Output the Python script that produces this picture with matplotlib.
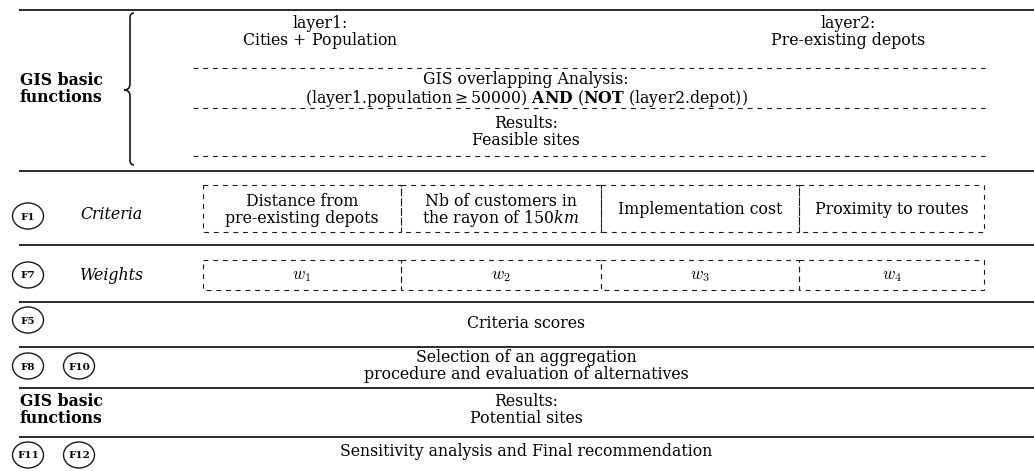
import matplotlib
matplotlib.use("Agg")
import matplotlib.pyplot as plt
from matplotlib.patches import Ellipse, Rectangle, PathPatch
from matplotlib.path import Path

plt.rcParams['lines.scale_dashes'] = False
plt.rcParams['mathtext.fontset'] = 'custom'
plt.rcParams['mathtext.rm'] = 'DejaVu Serif'
plt.rcParams['mathtext.it'] = 'DejaVu Serif:italic'
plt.rcParams['mathtext.bf'] = 'DejaVu Serif:bold'

# ---- content ----
gis_label = ["GIS basic", "functions"]
layer1_text = ["layer1:", "Cities $+$ Population"]
layer2_text = ["layer2:", "Pre-existing depots"]
overlap_text = ["GIS overlapping Analysis:",
                r"(layer1.population$\geq$50000) $\mathbf{AND}$ ($\mathbf{NOT}$ (layer2.depot))"]
feasible_text = ["Results:", "Feasible sites"]
criteria_label = "Criteria"
weights_label = "Weights"
criteria = [["Distance from", "pre-existing depots"],
            ["Nb of customers in", "the rayon of 150$km$"],
            ["Implementation cost"],
            ["Proximity to routes"]]
weights = [r"$w_1$", r"$w_2$", r"$w_3$", r"$w_4$"]
scores_text = ["Criteria scores"]
aggregation_text = ["Selection of an aggregation",
                    "procedure and evaluation of alternatives"]
potential_text = ["Results:", "Potential sites"]
final_text = ["Sensitivity analysis and Final recommendation"]
row_tags = [["F1"], ["F7"], ["F5"], ["F8", "F10"], [], ["F11", "F12"]]

# ---- layout ----
W, H = 1034, 471
fig = plt.figure(figsize=(W / 100, H / 100), dpi=100)
ax = fig.add_axes([0, 0, 1, 1])
ax.set_xlim(0, W)
ax.set_ylim(H, 0)
ax.axis('off')

serif = 'DejaVu Serif'
fs = 11.3
lc = '#1a1a1a'
cx = 526
lead = 17


def lines(x, y0, texts, ha='center', **kw):
    for k, t in enumerate(texts):
        ax.text(x, y0 + k * lead, t, fontfamily=serif, fontsize=fs, ha=ha,
                va='baseline', **kw)


# solid separators
for y in [10, 171, 245, 302, 347, 388, 437]:
    ax.plot([19, W], [y, y], color=lc, lw=1.3, solid_capstyle='butt')

# dashed separators in top block
dash = (0, (3.5, 3.5))
for y in [68, 108, 156]:
    ax.plot([193, 985], [y, y], color=lc, lw=0.8, linestyle=dash)

# brace
tip = 124
verts = [(134, 13), (130, 13), (130, 18),
         (130, 84),
         (130, 90), (tip, 90), (tip, 90),
         (130, 90), (130, 96),
         (130, 160),
         (130, 165), (134, 165)]
codes = [Path.MOVETO, Path.CURVE3, Path.CURVE3,
         Path.LINETO,
         Path.CURVE3, Path.CURVE3, Path.LINETO,
         Path.CURVE3, Path.CURVE3,
         Path.LINETO,
         Path.CURVE3, Path.CURVE3]
ax.add_patch(PathPatch(Path(verts, codes), fill=False, color=lc, lw=1.2))

# top block texts
lines(20, 85, gis_label, ha='left', fontweight='bold')
lines(320, 28, layer1_text)
lines(848, 28, layer2_text)
lines(cx, 84, overlap_text[:1])
lines(cx, 103, overlap_text[1:])
lines(cx, 128, feasible_text)

# boxes
edges = [203, 401, 601, 799, 984]
for i in range(4):
    x0, x1 = edges[i], edges[i + 1]
    ax.add_patch(Rectangle((x0, 185), x1 - x0, 47, fill=False, ec=lc, lw=0.8,
                           linestyle=dash))
    ax.add_patch(Rectangle((x0, 260), x1 - x0, 30, fill=False, ec=lc, lw=0.8,
                           linestyle=dash))
    if len(criteria[i]) == 2:
        lines((x0 + x1) / 2, 206, criteria[i], math_fontfamily='custom')
    else:
        lines((x0 + x1) / 2, 214, criteria[i])
    ax.text((x0 + x1) / 2, 279, weights[i], fontfamily=serif, fontsize=fs + 1,
            ha='center', va='baseline', math_fontfamily='cm')

lines(80, 219, [criteria_label], ha='left', fontstyle='italic')
lines(80, 280, [weights_label], ha='left', fontstyle='italic')

lines(cx, 328, scores_text)
lines(cx, 362, aggregation_text)
lines(20, 406, gis_label, ha='left', fontweight='bold')
lines(cx, 406, potential_text)
lines(cx, 456, final_text)

# circled tags
row_y = [216, 275, 320, 366, None, 455]
tag_x = [28, 79]
for tags, y in zip(row_tags, row_y):
    for j, t in enumerate(tags):
        ax.add_patch(Ellipse((tag_x[j], y), 31, 26, fill=False, ec=lc, lw=1.0))
        ax.text(tag_x[j], y + 1, t, fontfamily=serif, fontweight='bold', fontsize=7.5,
                ha='center', va='center')

fig.savefig('out.png', dpi=100)
